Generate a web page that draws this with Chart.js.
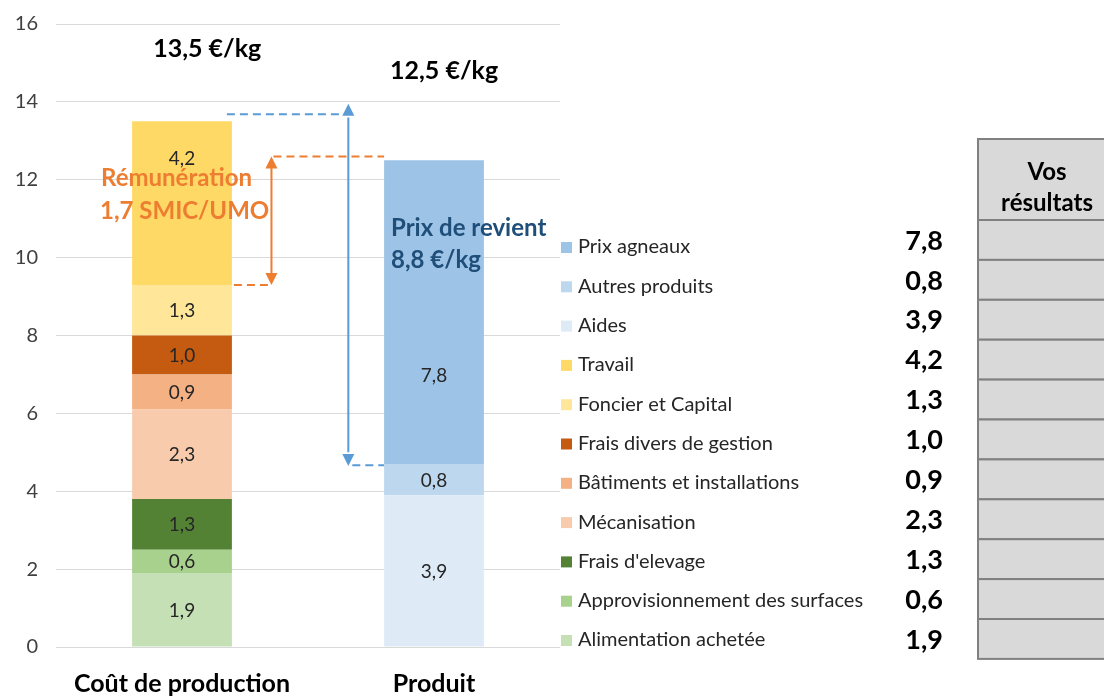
<!DOCTYPE html>
<html><head><meta charset="utf-8">
<script src="https://cdn.jsdelivr.net/npm/chart.js@4"></script>
<style>html,body{margin:0;padding:0;background:#fff;}#wrap{width:1104px;height:697px;position:relative;}</style>
</head><body><div id="wrap"><canvas id="c" width="1104" height="697"></canvas></div>
<script>
const categories = ["Coût de production", "Produit"];
const seriesNames = ["Alimentation achetée","Approvisionnement des surfaces","Frais d'elevage","Mécanisation","Bâtiments et installations","Frais divers de gestion","Foncier et Capital","Travail","Aides","Autres produits","Prix agneaux"];
const seriesValues = [1.9, 0.6, 1.3, 2.3, 0.9, 1.0, 1.3, 4.2, 3.9, 0.8, 7.8];
const seriesCategory = [0,0,0,0,0,0,0,0,1,1,1];
const seriesColors = ["#C5E0B4","#A9D18E","#548235","#F8CBAD","#F4B183","#C55A11","#FFE699","#FFD966","#DEEBF7","#BDD7EE","#9DC3E6"];
const totalLabels = ["13,5 €/kg", "12,5 €/kg"];
const yTicks = [0,2,4,6,8,10,12,14,16];
const remuneration = ["Rémunération", "1,7 SMIC/UMO"];
const prixRevient = ["Prix de revient", "8,8 €/kg"];
const tableHeader = ["Vos", "résultats"];

const FONT = "Lato, 'Open Sans', sans-serif";
const fmt = v => v.toFixed(1).replace('.', ',');

const datasets = seriesNames.map((n, i) => {
  const d = categories.map((_, j) => j === seriesCategory[i] ? seriesValues[i] : null);
  return { label: n, data: d, backgroundColor: seriesColors[i], stack: 's', barPercentage: 0.396, categoryPercentage: 1.0, borderWidth: 0 };
});

// manual label shifts (in value units, measured from segment top) for two labels moved in original
const labelFromTop = { 7: 0.93, 10: 5.5 };

const overlay = {
  id: 'overlay',
  afterDatasetsDraw(chart) {
    const ctx = chart.ctx, ys = chart.scales.y, xs = chart.scales.x;
    ctx.save();
    // segment labels
    ctx.font = "19px " + FONT; ctx.fillStyle = "#262626"; ctx.textAlign = 'center'; ctx.textBaseline = 'middle';
    chart.data.datasets.forEach((ds, i) => {
      const meta = chart.getDatasetMeta(i);
      const j = seriesCategory[i];
      const el = meta.data[j];
      let y = (el.y + el.base) / 2;
      if (labelFromTop[i] !== undefined) y = el.y + (ys.getPixelForValue(0) - ys.getPixelForValue(labelFromTop[i]));
      ctx.fillText(fmt(seriesValues[i]), el.x, y + 1);
    });
    // totals
    ctx.font = "bold 25px " + FONT; ctx.fillStyle = "#000";
    ctx.fillText(totalLabels[0], xs.getPixelForValue(0.1), ys.getPixelForValue(15.35));
    ctx.fillText(totalLabels[1], xs.getPixelForValue(1.04), ys.getPixelForValue(14.8));

    const arrowHead = (x, y, dir, col) => {
      ctx.fillStyle = col; ctx.beginPath();
      ctx.moveTo(x, y); ctx.lineTo(x - 6, y - dir * 12); ctx.lineTo(x + 6, y - dir * 12); ctx.closePath(); ctx.fill();
    };
    const dashed = (x1, x2, y, col) => {
      ctx.strokeStyle = col; ctx.lineWidth = 2; ctx.setLineDash([8, 5]);
      ctx.beginPath(); ctx.moveTo(x1, y); ctx.lineTo(x2, y); ctx.stroke(); ctx.setLineDash([]);
    };
    const b0 = chart.getDatasetMeta(7).data[0];
    const b1 = chart.getDatasetMeta(10).data[1];
    const b0r = b0.x + b0.width / 2, b1l = b1.x - b1.width / 2;
    // blue
    const blue = "#5B9BD5";
    const bx = xs.getPixelForValue(0.66);
    dashed(b0r - 5, bx - 4, ys.getPixelForValue(13.68), blue);
    dashed(bx + 4, b1l, ys.getPixelForValue(4.67), blue);
    ctx.strokeStyle = blue; ctx.lineWidth = 2;
    ctx.beginPath(); ctx.moveTo(bx, ys.getPixelForValue(13.6)); ctx.lineTo(bx, ys.getPixelForValue(5.0)); ctx.stroke();
    arrowHead(bx, ys.getPixelForValue(13.95), -1, blue);
    arrowHead(bx, ys.getPixelForValue(4.65), 1, blue);
    // orange
    const orange = "#ED7D31";
    const ox = xs.getPixelForValue(0.355);
    dashed(ox + 2, b1l, ys.getPixelForValue(12.6), orange);
    dashed(b0r + 2, ox - 3, ys.getPixelForValue(9.3), orange);
    ctx.strokeStyle = orange; ctx.lineWidth = 2;
    ctx.beginPath(); ctx.moveTo(ox, ys.getPixelForValue(12.3)); ctx.lineTo(ox, ys.getPixelForValue(9.6)); ctx.stroke();
    arrowHead(ox, ys.getPixelForValue(12.6), -1, orange);
    arrowHead(ox, ys.getPixelForValue(9.3), 1, orange);
    // texts
    ctx.textAlign = 'left'; ctx.font = "bold 24px " + FONT;
    ctx.fillStyle = orange;
    ctx.fillText(remuneration[0], 101, ys.getPixelForValue(12.05));
    ctx.fillText(remuneration[1], 100, ys.getPixelForValue(11.2));
    ctx.fillStyle = "#1F4E79";
    ctx.fillText(prixRevient[0], 391, ys.getPixelForValue(10.76));
    ctx.fillText(prixRevient[1], 391, ys.getPixelForValue(9.94));

    // legend + values + table
    const n = seriesNames.length;
    const order = [...Array(n).keys()].reverse();
    const rowTop = 220, rowH = 39.9;
    ctx.fillStyle = "#D9D9D9"; ctx.strokeStyle = "#808080"; ctx.lineWidth = 2;
    ctx.fillRect(978, 139, 140, rowTop - 139);
    ctx.strokeRect(978, 139, 140, rowTop - 139);
    for (let k = 0; k < n; k++) {
      ctx.fillStyle = "#D9D9D9";
      ctx.fillRect(978, rowTop + k * rowH, 140, rowH);
      ctx.strokeRect(978, rowTop + k * rowH, 140, rowH);
    }
    ctx.fillStyle = "#000"; ctx.font = "bold 24px " + FONT; ctx.textAlign = 'center';
    ctx.fillText(tableHeader[0], 1047, 172);
    ctx.fillText(tableHeader[1], 1047, 203);
    order.forEach((i, k) => {
      const ly = 247 + k * 39.3;
      ctx.fillStyle = seriesColors[i];
      ctx.fillRect(561, ly - 5, 11, 11);
      ctx.fillStyle = "#262626"; ctx.font = "20px " + FONT; ctx.textAlign = 'left';
      ctx.fillText(seriesNames[i], 578, ly);
      ctx.fillStyle = "#000"; ctx.font = "bold 27px " + FONT; ctx.textAlign = 'right';
      ctx.fillText(fmt(seriesValues[i]), 943, rowTop + k * rowH + rowH / 2 + 1);
    });
    ctx.restore();
  }
};

new Chart(document.getElementById('c'), {
  type: 'bar',
  data: { labels: categories, datasets },
  options: {
    responsive: false, animation: false,
    layout: { padding: { top: 24, right: 544, left: 0, bottom: 0 } },
    plugins: { legend: { display: false }, tooltip: { enabled: false } },
    scales: {
      x: {
        stacked: true,
        grid: { display: false, drawTicks: false }, border: { display: false },
        ticks: { padding: 22, color: "#000", font: { family: FONT, size: 25, weight: 'bold' } },
        afterFit(s) { s.height = 50; }
      },
      y: {
        stacked: true, min: 0, max: 16,
        afterBuildTicks(s) { s.ticks = yTicks.map(v => ({ value: v })); },
        grid: { color: "#D9D9D9", lineWidth: 1, drawTicks: false }, border: { display: false },
        ticks: { padding: 18, color: "#404040", font: { family: FONT, size: 20, lineHeight: 0.6 } },
        afterFit(s) { s.width = 56; s.paddingTop = 0; s.paddingBottom = 0; }
      }
    }
  },
  plugins: [overlay]
});
</script></body></html>
